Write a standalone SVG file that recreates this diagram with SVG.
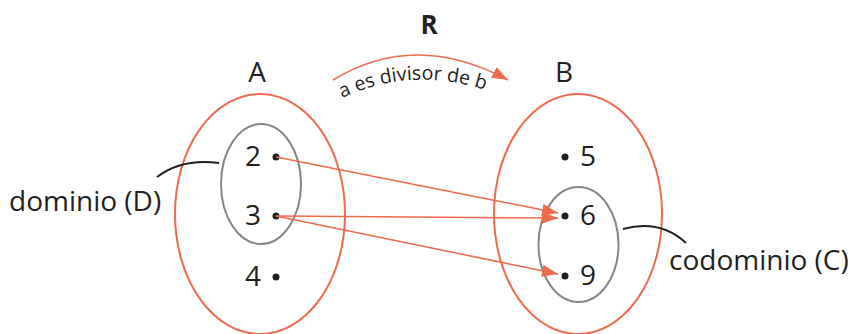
<svg xmlns="http://www.w3.org/2000/svg" width="850" height="334" viewBox="0 0 850 334">
<style>
text{font-family:"Open Sans","Noto Sans",sans-serif;fill:#231f20}
.lbl{font-size:28px}
.num{font-size:28px}
.outer{fill:none;stroke:#ef6a4e;stroke-width:2}
.inner{fill:none;stroke:#858689;stroke-width:2}
.arr{fill:none;stroke:#ef6a4e;stroke-width:1.5}
.lead{fill:none;stroke:#231f20;stroke-width:2}
.dot{fill:#231f20}
</style>
<defs>
<marker id="ah" markerUnits="userSpaceOnUse" markerWidth="16" markerHeight="12" refX="16" refY="6" orient="auto">
<path d="M0,0 L16,6 L0,12 z" fill="#ef6a4e"/>
</marker>
<path id="tp" d="M342,98 Q415,64 494,93"/>
</defs>
<g id="title">
<text x="429" y="34" text-anchor="middle" style="font-size:26px;font-weight:bold">R</text>
</g>
<g id="relation">
<path class="arr" d="M333,80 Q415,30 508,80" marker-end="url(#ah)"/>
<text style="font-size:19.5px"><textPath href="#tp">a es divisor de b</textPath></text>
</g>
<g id="setA">
<ellipse class="outer" cx="260" cy="214" rx="85" ry="120"/>
<text class="lbl" x="257" y="82" text-anchor="middle">A</text>
</g>
<g id="domain">
<ellipse class="inner" cx="261" cy="184" rx="40" ry="60"/>
</g>
<g id="a2"><circle class="dot" cx="276" cy="157" r="3.5"/><text class="num" x="253" y="166" text-anchor="middle">2</text></g>
<g id="a3"><circle class="dot" cx="276" cy="216" r="3.5"/><text class="num" x="253" y="225" text-anchor="middle">3</text></g>
<g id="a4"><circle class="dot" cx="276" cy="277" r="3.5"/><text class="num" x="253" y="286" text-anchor="middle">4</text></g>
<g id="setB">
<ellipse class="outer" cx="578" cy="214" rx="84" ry="120"/>
<text class="lbl" x="564" y="82" text-anchor="middle">B</text>
</g>
<g id="codomain">
<ellipse class="inner" cx="578.5" cy="244.5" rx="40" ry="57.5"/>
</g>
<g id="b5"><circle class="dot" cx="565" cy="157" r="3.5"/><text class="num" x="588" y="166" text-anchor="middle">5</text></g>
<g id="b6"><circle class="dot" cx="565" cy="216" r="3.5"/><text class="num" x="588" y="225" text-anchor="middle">6</text></g>
<g id="b9"><circle class="dot" cx="565" cy="276" r="3.5"/><text class="num" x="588" y="285" text-anchor="middle">9</text></g>
<g id="dominioLabel">
<text class="lbl" x="9" y="211">dominio (D)</text>
</g>
<g id="codominioLabel">
<text class="lbl" x="669" y="270">codominio (C)</text>
</g>
<g id="connectors">
<path class="arr" d="M276,157 L558,213" marker-end="url(#ah)"/>
<path class="arr" d="M276,216 L558,218" marker-end="url(#ah)"/>
<path class="arr" d="M276,216 L558,274" marker-end="url(#ah)"/>
<path class="lead" d="M157,177 Q182,158 219,163"/>
<path class="lead" d="M623,229 Q660,219 686,243"/>
</g>
</svg>
